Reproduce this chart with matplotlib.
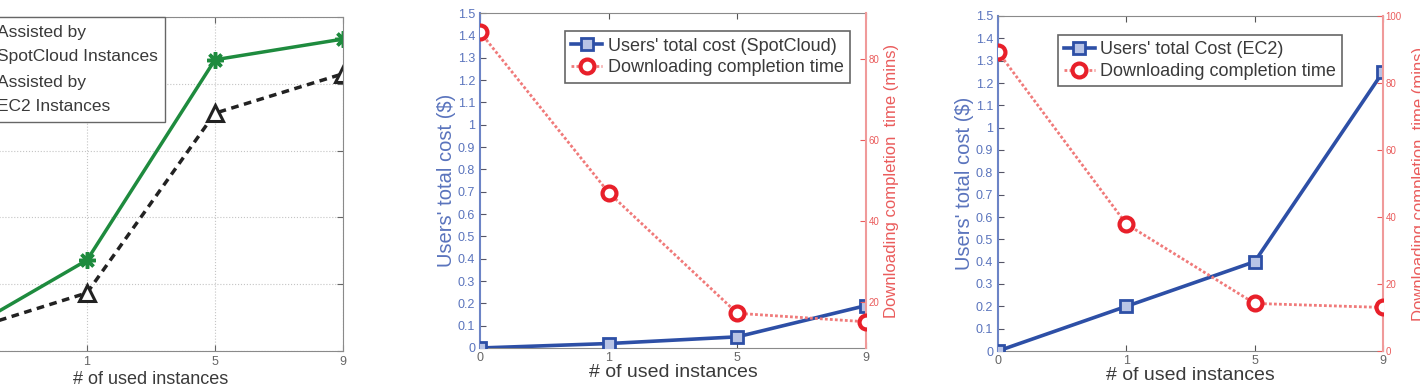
import matplotlib
matplotlib.use("Agg")
import matplotlib.pyplot as plt

plt.rcParams['font.family'] = ['Liberation Sans', 'DejaVu Sans']

# x categories (number of used instances), plotted at equal spacing
instances = ["0", "1", "5", "9"]
pos = [0, 1, 2, 3]

# left panel (y axis cut off in the source, arbitrary units)
spotcloud_assist = [0.25, 1.36, 4.36, 4.67]
ec2_assist = [0.27, 0.87, 3.56, 4.15]

# middle panel: SpotCloud
cost_spot = [0.0, 0.02, 0.05, 0.19]
time_spot = [86.8, 47.0, 17.1, 15.0]

# right panel: EC2
cost_ec2 = [0.0, 0.2, 0.4, 1.25]
time_ec2 = [89.3, 37.9, 14.2, 13.0]

BLUE = "#2d4fa6"
BLUE_TXT = "#5a74bd"
RED = "#e8202a"
RED_LINE = "#f07a7a"
RED_TXT = "#ea5c5c"
GRAY = "#8a8a8a"
TXT = "#3a3a3a"

fig = plt.figure(figsize=(14.2, 3.92), dpi=100)

# ---------------- left panel ----------------
ax0 = fig.add_axes([-41 / 1420, 41 / 392, 384 / 1420, 334 / 392])
ax0.plot(pos, spotcloud_assist, color="#1e8b3e", lw=2.5, marker=(8, 2, 0), ms=12,
         mew=2.5, label="Assisted by\nSpotCloud Instances")
ax0.plot(pos, ec2_assist, color="#222222", lw=2.5, ls=(0, (2.2, 1.6)), marker="^",
         ms=12, mfc="white", mec="#222222", mew=2.2,
         label="Assisted by\nEC2 Instances")
ax0.set_xlim(0, 3)
ax0.set_ylim(0, 5)
ax0.set_xticks(pos)
ax0.set_xticklabels(instances, fontsize=9, color="#666")
ax0.set_yticks(range(6))
ax0.set_yticklabels([])
ax0.grid(True, ls=":", color="#c4c4c4", lw=0.8)
ax0.tick_params(direction="in", top=True, right=True, length=4, color="#666")
for s in ax0.spines.values():
    s.set_color(GRAY)
ax0.set_xlabel("# of used instances", fontsize=13, color=TXT, labelpad=2)
leg = ax0.legend(loc="upper left", bbox_to_anchor=(-0.076, 1.0), fontsize=12.5,
                 fancybox=False, edgecolor="#666", framealpha=1,
                 handlelength=2.6, borderaxespad=0.0, labelspacing=0.6,
                 borderpad=0.45, handleheight=2.4)
for t in leg.get_texts():
    t.set_color(TXT)
    t.set_linespacing(1.8)


def cost_panel(rect, cost, time, cost_label, tlim, tticks, anchor, ylpad):
    ax = fig.add_axes(rect)
    ax.plot(pos, cost, color=BLUE, lw=2.6, marker="s", ms=9, mfc="#b8c4e6",
            mec=BLUE, mew=2, label=cost_label, zorder=3)
    ax.set_xlim(0, 3)
    ax.set_ylim(0, 1.5)
    ax.set_xticks(pos)
    ax.set_xticklabels(instances, fontsize=9, color="#666")
    yt = [i / 10 for i in range(16)]
    ax.set_yticks(yt)
    ax.set_yticklabels(["0"] + ["%g" % v for v in yt[1:]], fontsize=9, color=BLUE_TXT)
    ax.tick_params(axis="y", direction="in", right=True, length=4, color="#556")
    ax.tick_params(axis="x", direction="in", top=True, length=4, color="#555", pad=3)
    ax.set_ylabel("Users' total cost ($)", fontsize=14.5, color=BLUE_TXT, labelpad=1)
    ax.set_xlabel("# of used instances", fontsize=14, color=TXT, labelpad=0)
    ax.spines["left"].set_color("#6c84c6")
    ax.spines["left"].set_linewidth(1.5)
    ax.spines["top"].set_color(GRAY)
    ax.spines["bottom"].set_color(GRAY)
    ax.spines["right"].set_visible(False)

    tx = ax.twinx()
    tx.plot(pos, time, color=RED_LINE, lw=2, ls=(0, (1, 0.8)), marker="o", ms=10,
            mfc="white", mec=RED, mew=3, label="Downloading completion time", zorder=3)
    tx.set_ylim(*tlim)
    tx.set_yticks(tticks)
    tx.set_yticklabels([str(v) for v in tticks], fontsize=7, color=RED_TXT)
    tx.tick_params(axis="y", direction="in", length=4, color=RED_TXT, pad=2)
    tx.spines["right"].set_color("#f09a9a")
    tx.spines["right"].set_linewidth(1.5)
    for k in ("left", "top", "bottom"):
        tx.spines[k].set_visible(False)
    tx.set_ylabel("Downloading completion  time (mins)", fontsize=12, color=RED_TXT,
                  labelpad=ylpad)
    h1, l1 = ax.get_legend_handles_labels()
    h2, l2 = tx.get_legend_handles_labels()
    lg = tx.legend(h1 + h2, l1 + l2, loc="upper right", bbox_to_anchor=anchor,
                   fontsize=13, fancybox=False, edgecolor="#666", framealpha=1,
                   handlelength=1.7, handletextpad=0.3, borderpad=0.35,
                   labelspacing=0.25, borderaxespad=0.0)
    lg.get_frame().set_linewidth(1.2)
    for t in lg.get_texts():
        t.set_color(TXT)
    return ax, tx


cost_panel([480 / 1420, 44 / 392, 386 / 1420, 335 / 392], cost_spot, time_spot,
           "Users' total cost (SpotCloud)", (8.5, 91.5), [20, 40, 60, 80],
           (0.958, 0.945), 3)
cost_panel([998 / 1420, 41 / 392, 385 / 1420, 335 / 392], cost_ec2, time_ec2,
           "Users' total Cost (EC2)", (0, 100), [0, 20, 40, 60, 80, 100],
           (0.894, 0.943), 7)

fig.savefig("out.png", dpi=100)
